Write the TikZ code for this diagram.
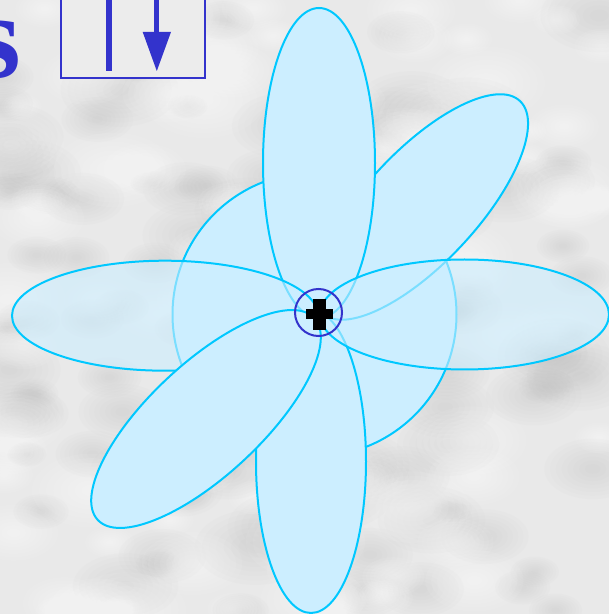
\documentclass[tikz,border=0pt]{standalone}
\usepackage{fontspec}
\setmainfont{Liberation Serif}
\definecolor{bgbase}{HTML}{E9E9E9}
\definecolor{bgdark}{HTML}{B8B8B8}
\definecolor{petalfill}{HTML}{CCEEFF}
\definecolor{petalline}{HTML}{00C8FF}
\definecolor{ink}{HTML}{3333CC}
\definecolor{boxgray}{HTML}{ECECEC}
\begin{document}
\begin{tikzpicture}[x=1pt,y=1pt,
  petal/.style={fill=petalfill, draw=petalline, line width=2pt},
  ghost/.style={petal, fill opacity=0.6},
  darkblob/.style={fill=bgdark, opacity=0.045},
  lightblob/.style={fill=white, opacity=0.07}]
\useasboundingbox (0,0) rectangle (609,614);
\begin{scope}
\clip (0,0) rectangle (609,614);
\fill[bgbase] (0,0) rectangle (609,614);
% soft marble texture
\pgfmathsetseed{11}
\foreach \i in {1,...,110} {
  \pgfmathsetmacro\bx{rnd*609}
  \pgfmathsetmacro\by{rnd*614}
  \pgfmathsetmacro\br{12+rnd*26}
  \foreach \k in {1.0,0.88,0.76,0.64,0.52,0.40,0.28,0.16}
    \fill[darkblob] (\bx,\by) ellipse [x radius=1.6*\br*\k, y radius=\br*\k];
}
\foreach \i in {1,...,90} {
  \pgfmathsetmacro\bx{rnd*609}
  \pgfmathsetmacro\by{rnd*614}
  \pgfmathsetmacro\br{12+rnd*26}
  \foreach \k in {1.0,0.88,0.76,0.64,0.52,0.40,0.28,0.16}
    \fill[lightblob] (\bx,\by) ellipse [x radius=1.6*\br*\k, y radius=\br*\k];
}
% heading fragment
\node[anchor=base east, text=ink, inner sep=0pt,
      font=\fontsize{120}{120}\selectfont\bfseries] (s) at (21,536) {s};
% box with line and arrow
\draw[ink, line width=2.8pt, fill=boxgray] (61,536) rectangle (205,625);
\coordinate (lt) at (108.8,625);
\coordinate (lb) at (108.8,543);
\draw[ink, line width=5.7pt] (lt) -- (lb);
\coordinate (at) at (156.7,625);
\coordinate (ab) at (156.7,575);
\draw[ink, line width=5.3pt] (at) -- (ab);
\fill[ink] (142.7,582) -- (171,582) -- (156.8,543) -- cycle;
% petals
\draw[petal] (314.5,299.5) circle [radius=142pt];
\draw[petal, rotate around={47:(421,407)}] (421,407) ellipse [x radius=145pt, y radius=56pt];
\draw[petal] (311,152.5) ellipse [x radius=55pt, y radius=151.5pt];
\draw[petal] (319,451) ellipse [x radius=56pt, y radius=155pt];
\draw[ghost] (464.5,299.5) ellipse [x radius=144.5pt, y radius=55pt];
\draw[ghost] (165,298.3) ellipse [x radius=153pt, y radius=55pt];
\draw[petal, rotate around={43:(206,195)}] (206,195) ellipse [x radius=148pt, y radius=56pt];
% centre marker
\draw[ink, line width=2pt] (318.5,301.5) circle [radius=23.5pt];
\fill[black] (306,294.5) rectangle (333,304.5);
\fill[black] (313,284) rectangle (326,315);
\end{scope}
\end{tikzpicture}
\end{document}
